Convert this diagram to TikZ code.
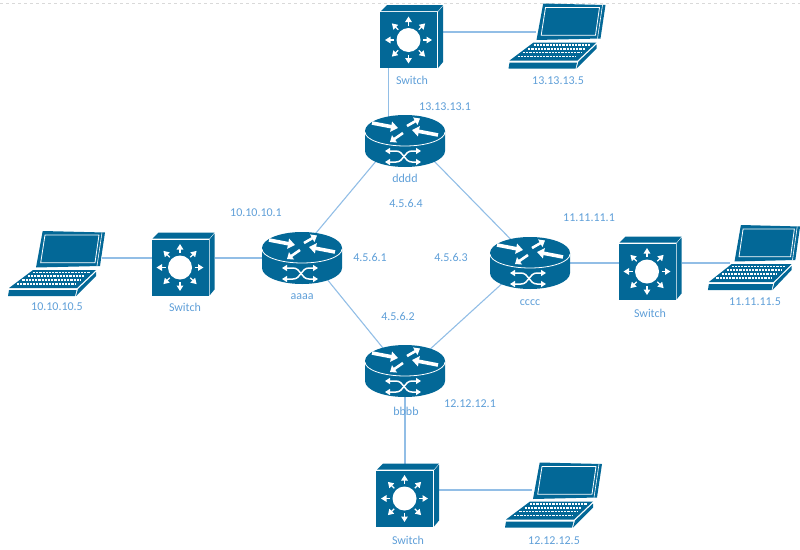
\documentclass[tikz,border=0pt]{standalone}
\usepackage{fontspec}
\setmainfont{Carlito}
\usetikzlibrary{arrows.meta,calc,shapes.geometric}

\definecolor{iconblue}{HTML}{036897}
\definecolor{linkblue}{HTML}{92BEE6}
\definecolor{textblue}{HTML}{5F9FD8}

\tikzset{
    routernode/.style={ellipse,minimum width=80pt,minimum height=52pt,inner sep=0pt,outer sep=0pt},
    switchnode/.style={rectangle,minimum width=63pt,minimum height=63pt,inner sep=0pt,outer sep=0pt},
    laptopnode/.style={rectangle,minimum width=97pt,minimum height=65pt,inner sep=0pt,outer sep=0pt},
    txt/.style={text=textblue,font=\fontsize{12}{14}\selectfont,inner sep=0pt},
    link/.style={draw=linkblue,line width=1.1pt},
    bigarrow/.style={white,line width=3.6pt,-{Triangle[length=7pt,width=10pt]}},
    smallarrow/.style={white,line width=2.6pt,-{Triangle[length=5.5pt,width=8.5pt]}},
    crossarrow/.style={white,line width=1.5pt,{Triangle[length=5pt,width=6pt]}-{Triangle[length=5pt,width=6pt]}},
    routericon/.pic={
        \begin{scope}[shift={(-40,-26)}]
        \fill[iconblue] (0,16) -- (0,36) arc[start angle=180,end angle=360,x radius=40,y radius=-16] -- (80,16) arc[start angle=0,end angle=180,x radius=40,y radius=-16] -- cycle;
        \draw[white,line width=0.8pt] (0,17) arc[start angle=180,end angle=360,x radius=40,y radius=-14];
        \draw[bigarrow] (7,8) -- (33,13);
        \draw[bigarrow] (73,20) -- (47,15);
        \draw[smallarrow] (42,11) -- (55,3.5);
        \draw[smallarrow] (38,18) -- (25,27);
        \draw[crossarrow] (20,36) -- (31,36) .. controls (39,36) and (39,47) .. (47,47) -- (56,47);
        \draw[crossarrow] (20,47) -- (31,47) .. controls (39,47) and (39,36) .. (47,36) -- (56,36);
        \end{scope}
    },
    switchicon/.pic={
        \begin{scope}[shift={(-31.5,-31.5)}]
        \fill[iconblue] (0,7) rectangle (57,63);
        \fill[iconblue] (1,6) -- (7,0) -- (63,0) -- (58,6) -- cycle;
        \fill[iconblue] (58,7) -- (63,1) -- (63,57) -- (58,63) -- cycle;
        \fill[white] (28.5,35) circle[radius=12];
        \foreach \ang in {0,45,...,315}
            \draw[white,line width=1.3pt,-{Triangle[length=5.5pt,width=6.5pt]}] (28.5,35) ++(\ang:14.5) -- ++(\ang:9);
        \end{scope}
    },
    laptopicon/.pic={
        \begin{scope}[shift={(-48.5,-32.5)}]
        % lid
        \fill[iconblue] (34.7,0) -- (97,1.5) -- (92,35) -- (28,36.5) -- cycle;
        \draw[white,line width=0.8pt] (37,4) -- (91,4) -- (87,31.7) -- (32.7,31.7) -- cycle;
        \draw[white,line width=0.6pt] (94,1.5) -- (89,35);
        % base
        \fill[iconblue] (25,39) -- (88,39) -- (69,57) -- (1,57) -- cycle;
        \fill[iconblue] (1,59) -- (68.5,59) -- (67,65) -- (0,65) -- cycle;
        \fill[iconblue] (88,41) -- (88,45) -- (68,65) -- (70,58) -- cycle;
        \foreach \t in {0,0.33,0.66,1}
            \draw[white,line width=1.7pt,dash pattern=on 2.2pt off 1pt] ($(25,41.5)!\t!(9,53)$) -- ($(82,41.5)!\t!(67,53)$);
        \end{scope}
    }
}

\begin{document}
\begin{tikzpicture}[x=1pt,y=-1pt]
    \useasboundingbox (0,0) rectangle (800,549);

    % faint line along the top
    \draw[black!15,line width=0.5pt,dashed] (0,3) -- (800,3);

    \node[routernode] (aaaa) at (302,258) {};
    \node[routernode] (bbbb) at (405,371) {};
    \node[routernode] (cccc) at (530,263) {};
    \node[routernode] (dddd) at (405,141) {};

    \node[switchnode] (swa) at (183,264) {};
    \node[switchnode] (swb) at (407.5,495) {};
    \node[switchnode] (swc) at (650,268) {};
    \node[switchnode] (swd) at (411.5,36.5) {};

    \node[laptopnode] (lapa) at (56.5,263.5) {};
    \node[laptopnode] (lapb) at (553.5,495) {};
    \node[laptopnode] (lapc) at (754,257.5) {};
    \node[laptopnode] (lapd) at (557,36) {};

    % router ring
    \draw[link] (aaaa.61) -- (dddd.214);
    \draw[link] (dddd.326) -- (cccc.129);
    \draw[link] (aaaa.320) -- (bbbb.134);
    \draw[link] (bbbb.41) -- (cccc.216);

    % router to switch
    \draw[link] (aaaa.west) -- (aaaa.west -| swa.east);
    \draw[link] (bbbb.south) -- (bbbb.south |- swb.north);
    \draw[link] (cccc.east) -- (cccc.east -| swc.west);
    \draw[link] (dddd.125) -- (dddd.125 |- swd.south);

    % switch to laptop
    \draw[link] (aaaa.west -| swa.west) -- ([xshift=-3pt]aaaa.west -| lapa.east);
    \draw[link] ([yshift=5pt]swb.east) -- ([xshift=27pt,yshift=5pt]swb.east -| lapb.west);
    \draw[link] (cccc.east -| swc.east) -- ([xshift=24pt]cccc.east -| lapc.west);
    \draw[link] ([yshift=4.5pt]swd.east) -- ([xshift=27pt,yshift=4.5pt]swd.east -| lapd.west);

    \foreach \r in {aaaa,bbbb,cccc,dddd}
        \pic at (\r.center) {routericon};
    \foreach \s in {swa,swb,swc,swd}
        \pic at (\s.center) {switchicon};
    \foreach \l in {lapa,lapb,lapd}
        \pic at (\l.center) {laptopicon};
    \pic[xscale=0.95] at (lapc.center) {laptopicon};

    \node[txt] (ipa) at (256,213) {10.10.10.1};
    \node[txt] (ipb) at (470,404) {12.12.12.1};
    \node[txt] (ipc) at (589,218) {11.11.11.1};
    \node[txt] (ipd) at (445,107) {13.13.13.1};
    \node[txt] (wana) at (370,257) {4.5.6.1};
    \node[txt] (wanb) at (398,316) {4.5.6.2};
    \node[txt] (wanc) at (451,257) {4.5.6.3};
    \node[txt] (wand) at (406,203) {4.5.6.4};
    \node[txt] (hosta) at (57,307) {10.10.10.5};
    \node[txt] (hostb) at (554,541) {12.12.12.5};
    \node[txt] (hostc) at (755,302) {11.11.11.5};
    \node[txt] (hostd) at (558,81) {13.13.13.5};
    \node[txt] (namea) at (302,297) {aaaa};
    \node[txt] (nameb) at (406,411) {bbbb};
    \node[txt] (namec) at (530,303) {cccc};
    \node[txt] (named) at (405,178) {dddd};
    \node[txt] (swlabela) at (185,307) {Switch};
    \node[txt] (swlabelb) at (408,540) {Switch};
    \node[txt] (swlabelc) at (650,313) {Switch};
    \node[txt] (swlabeld) at (412,80) {Switch};
\end{tikzpicture}
\end{document}
